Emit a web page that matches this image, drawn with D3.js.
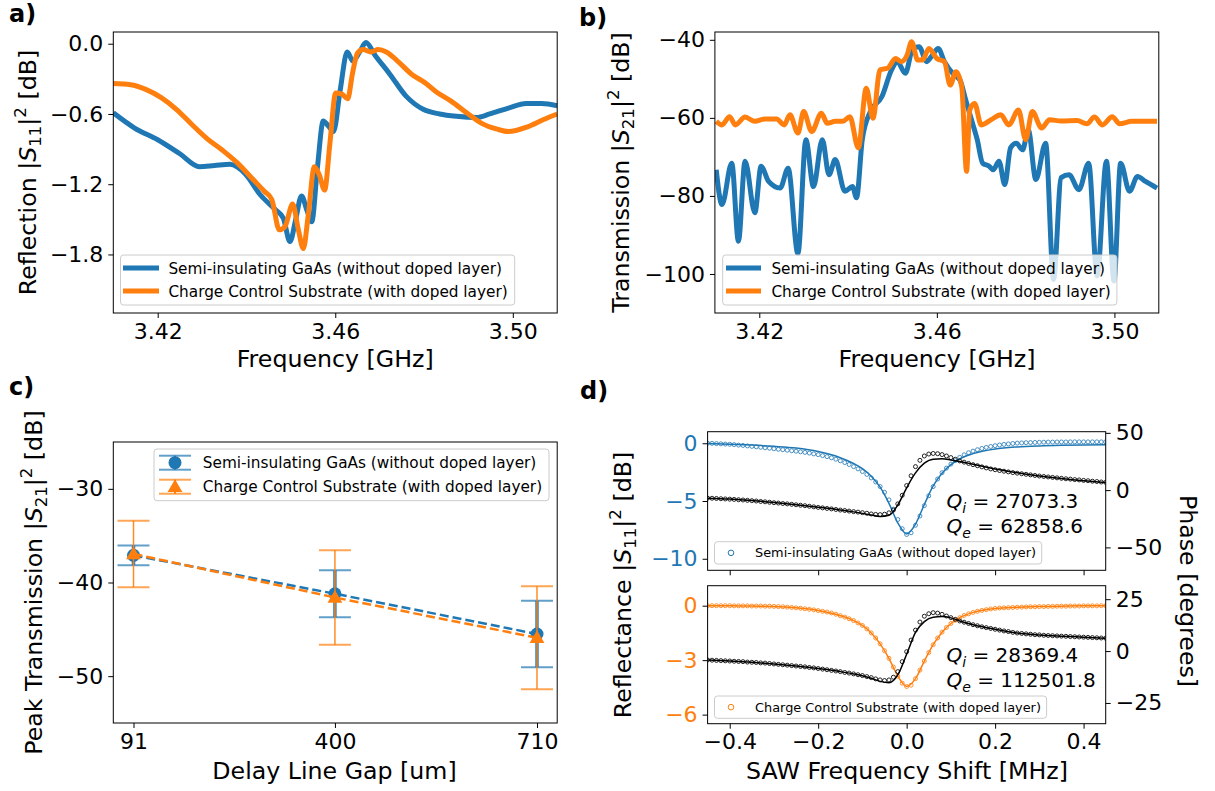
<!DOCTYPE html>
<html>
<head>
<meta charset="utf-8">
<script src="https://cdn.jsdelivr.net/npm/d3@7"></script>
<style>
  body { margin: 0; background: #fff; }
  svg text { font-family: "DejaVu Sans", sans-serif; }
</style>
</head>
<body>
<script>
//panel a: reflection |S11|^2 [dB] vs frequency [GHz]
var aBlueFreq = [3.4100,3.4148,3.4200,3.4250,3.4294,3.4328,3.4363,3.4397,3.4431,3.4466,3.4483,3.4498,3.4511,3.4524,3.4536,3.4547,3.4560,3.4573,3.4584,3.4596,3.4611,3.4627,3.4640,3.4655,3.4669,3.4690,3.4723,3.4760,3.4798,3.4835,3.4873,3.4918,3.4948,3.4990,3.5030,3.5065,3.5100];
var aBlueDb = [-0.59,-0.72,-0.82,-0.94,-1.05,-1.04,-1.03,-1.11,-1.29,-1.42,-1.49,-1.69,-1.50,-1.30,-1.42,-1.52,-1.05,-0.66,-0.70,-0.75,-0.40,-0.07,-0.15,-0.07,0.01,-0.10,-0.26,-0.45,-0.56,-0.60,-0.62,-0.63,-0.60,-0.55,-0.51,-0.51,-0.53];
var aOrangeFreq = [3.4100,3.4139,3.4173,3.4208,3.4242,3.4277,3.4311,3.4346,3.4380,3.4415,3.4440,3.4457,3.4474,3.4487,3.4504,3.4517,3.4528,3.4539,3.4553,3.4564,3.4576,3.4588,3.4601,3.4615,3.4628,3.4639,3.4650,3.4663,3.4680,3.4697,3.4715,3.4741,3.4775,3.4801,3.4827,3.4861,3.4896,3.4930,3.4965,3.4990,3.5033,3.5068,3.5100];
var aOrangeDb = [-0.34,-0.35,-0.39,-0.46,-0.56,-0.69,-0.81,-0.91,-1.02,-1.16,-1.26,-1.33,-1.59,-1.56,-1.37,-1.59,-1.75,-1.47,-1.05,-1.12,-1.25,-0.85,-0.42,-0.43,-0.47,-0.25,-0.08,-0.05,-0.07,-0.05,-0.07,-0.15,-0.27,-0.33,-0.41,-0.49,-0.59,-0.68,-0.73,-0.75,-0.71,-0.65,-0.60];

//panel b: transmission |S21|^2 [dB] vs frequency [GHz]
var bBlueFreq = [3.4103,3.4116,3.4138,3.4153,3.4168,3.4190,3.4204,3.4221,3.4247,3.4265,3.4287,3.4305,3.4322,3.4342,3.4357,3.4371,3.4393,3.4410,3.4419,3.4432,3.4450,3.4476,3.4498,3.4511,3.4529,3.4546,3.4560,3.4577,3.4590,3.4603,3.4617,3.4639,3.4652,3.4665,3.4678,3.4691,3.4703,3.4718,3.4727,3.4740,3.4753,3.4766,3.4779,3.4793,3.4806,3.4823,3.4845,3.4863,3.4880,3.4898,3.4920,3.4942,3.4961,3.4982,3.4999,3.5014,3.5034,3.5052,3.5070,3.5096];
var bBlueDb = [-73.3,-82.2,-71.6,-91.6,-71.1,-84.3,-72.4,-76.3,-78.0,-72.9,-94.8,-65.6,-77.6,-65.6,-74.6,-70.7,-78.8,-77.6,-80.5,-65.6,-58.4,-54.6,-47.7,-45.6,-48.6,-42.2,-41.8,-45.6,-43.9,-42.2,-45.6,-49.0,-50.3,-55.4,-60.5,-65.6,-71.6,-72.4,-73.3,-71.1,-77.1,-67.7,-66.5,-68.2,-63.1,-75.8,-66.5,-101.4,-75.3,-74.6,-78.4,-71.6,-100.5,-71.1,-101.8,-71.6,-78.8,-75.0,-76.3,-78.0];
var bOrangeFreq = [3.4103,3.4116,3.4133,3.4146,3.4168,3.4190,3.4212,3.4239,3.4256,3.4269,3.4287,3.4300,3.4318,3.4340,3.4353,3.4371,3.4388,3.4404,3.4423,3.4441,3.4456,3.4472,3.4489,3.4507,3.4520,3.4533,3.4543,3.4557,3.4568,3.4582,3.4600,3.4617,3.4630,3.4643,3.4656,3.4667,3.4674,3.4685,3.4700,3.4722,3.4744,3.4762,3.4784,3.4800,3.4815,3.4836,3.4854,3.4880,3.4916,3.4938,3.4955,3.4973,3.4995,3.5012,3.5039,3.5096];
var bOrangeDb = [-60.9,-61.8,-59.7,-61.8,-59.8,-60.9,-60.3,-60.3,-61.8,-59.2,-63.9,-58.4,-63.5,-58.8,-61.4,-60.9,-60.9,-59.7,-67.7,-52.4,-60.1,-47.7,-47.3,-44.8,-45.6,-43.9,-40.5,-45.2,-45.2,-42.2,-44.8,-45.6,-51.6,-48.2,-52.0,-73.7,-58.0,-56.3,-61.8,-60.5,-59.2,-61.8,-58.0,-65.6,-58.4,-62.6,-60.5,-60.8,-60.7,-61.5,-59.8,-61.8,-59.7,-61.5,-60.9,-60.9];

//panel c: peak transmission vs delay line gap
var gaps = [91, 400, 710];
var cBluePeak = [-37.1, -41.2, -45.5];
var cBlueErr = [1.05, 2.5, 3.55];
var cOrangePeak = [-36.95, -41.6, -45.9];
var cOrangeErr = [3.55, 5.05, 5.5];

//panel d: resonator sweep, both sampled on the same frequency grid
var sweepStart = -0.45, sweepStep = 0.01;
var dTopMagDb = [0.00,-0.01,-0.03,-0.05,-0.07,-0.09,-0.12,-0.16,-0.19,-0.23,-0.27,-0.31,-0.35,-0.39,-0.43,-0.48,-0.52,-0.56,-0.60,-0.65,-0.69,-0.74,-0.79,-0.85,-0.92,-0.99,-1.07,-1.16,-1.26,-1.38,-1.52,-1.67,-1.84,-2.02,-2.22,-2.45,-2.70,-3.00,-3.35,-3.75,-4.25,-4.90,-5.70,-6.60,-7.40,-7.90,-7.75,-7.10,-6.30,-5.40,-4.55,-3.75,-3.10,-2.55,-2.15,-1.80,-1.50,-1.22,-1.00,-0.82,-0.68,-0.56,-0.45,-0.36,-0.28,-0.21,-0.15,-0.10,-0.06,-0.02,0.01,0.03,0.05,0.06,0.07,0.08,0.09,0.10,0.10,0.11,0.11,0.11,0.12,0.12,0.12,0.12,0.12,0.12,0.12,0.12,0.12];
var dTopPhase = [-7.0,-7.1,-7.3,-7.5,-7.7,-7.9,-8.1,-8.4,-8.6,-8.9,-9.2,-9.5,-9.9,-10.2,-10.6,-11.0,-11.3,-11.7,-12.0,-12.4,-12.8,-13.2,-13.6,-14.1,-14.6,-15.1,-15.5,-16.0,-16.4,-16.9,-17.4,-17.8,-18.3,-18.8,-19.2,-19.7,-20.2,-20.8,-21.2,-21.4,-21.0,-19.8,-17.4,-12.0,-4.5,4.0,12.5,20.5,26.0,29.8,31.5,32.0,31.8,31.0,29.8,28.4,27.0,25.5,24.4,23.3,22.2,21.3,20.3,19.4,18.5,17.8,17.1,16.5,15.9,15.3,14.8,14.3,13.8,13.3,12.8,12.3,11.9,11.5,11.1,10.7,10.3,9.9,9.6,9.2,8.9,8.5,8.2,7.8,7.5,7.1,6.8];
var dBotMagDb = [0.00,0.00,0.00,0.00,0.00,0.00,-0.01,-0.01,-0.01,-0.01,-0.02,-0.02,-0.02,-0.03,-0.03,-0.04,-0.05,-0.06,-0.08,-0.10,-0.12,-0.14,-0.17,-0.20,-0.23,-0.27,-0.31,-0.35,-0.40,-0.47,-0.55,-0.63,-0.72,-0.82,-0.95,-1.09,-1.28,-1.50,-1.78,-2.10,-2.48,-2.90,-3.38,-3.88,-4.27,-4.45,-4.38,-4.02,-3.55,-3.05,-2.58,-2.15,-1.78,-1.46,-1.20,-0.98,-0.80,-0.66,-0.54,-0.45,-0.37,-0.31,-0.26,-0.22,-0.18,-0.15,-0.13,-0.12,-0.11,-0.10,-0.09,-0.08,-0.07,-0.06,-0.06,-0.05,-0.05,-0.04,-0.04,-0.03,-0.03,-0.03,-0.02,-0.02,-0.02,-0.01,-0.01,-0.01,-0.01,0.00,0.00];
var dBotPhase = [-4.3,-4.4,-4.5,-4.6,-4.7,-4.8,-4.9,-5.0,-5.1,-5.3,-5.4,-5.5,-5.7,-5.8,-6.0,-6.2,-6.4,-6.6,-6.8,-7.0,-7.2,-7.4,-7.6,-7.9,-8.1,-8.4,-8.7,-9.0,-9.3,-9.6,-9.9,-10.3,-10.6,-11.0,-11.4,-11.8,-12.3,-12.8,-13.4,-13.9,-14.2,-13.9,-12.6,-9.9,-5.1,-0.3,5.3,10.1,14.0,16.8,18.0,18.5,18.3,17.7,16.9,16.1,15.3,14.5,13.9,13.3,12.7,12.2,11.7,11.3,10.9,10.5,10.1,9.7,9.4,9.0,8.7,8.5,8.3,8.1,7.9,7.8,7.6,7.5,7.4,7.3,7.2,7.1,7.0,6.9,6.8,6.7,6.6,6.5,6.4,6.3,6.2];
//fitted curves
var fitShift = [-0.45,-0.40,-0.35,-0.30,-0.25,-0.20,-0.15,-0.12,-0.10,-0.08,-0.06,-0.04,-0.02,0.00,0.02,0.04,0.06,0.08,0.10,0.12,0.15,0.20,0.25,0.30,0.35,0.40,0.45];
var fitTopMag = [-0.03,-0.08,-0.16,-0.27,-0.42,-0.72,-1.25,-1.75,-2.20,-2.85,-3.80,-5.20,-6.90,-7.85,-7.00,-5.30,-3.70,-2.60,-1.85,-1.35,-0.90,-0.50,-0.32,-0.23,-0.18,-0.15,-0.13];
var fitTopPhase = [-7.0,-7.8,-9.1,-10.8,-12.7,-14.9,-17.3,-19.0,-20.3,-21.8,-23.0,-22.0,-13.0,2.0,15.0,23.5,27.0,27.3,26.3,25.0,22.6,18.5,15.2,12.4,10.1,8.2,6.7];
var fitBotMag = [0.00,0.00,-0.02,-0.04,-0.12,-0.27,-0.55,-0.82,-1.09,-1.50,-2.10,-2.90,-3.88,-4.45,-4.02,-3.05,-2.15,-1.46,-0.98,-0.66,-0.37,-0.15,-0.09,-0.05,-0.03,-0.01,0.00];
var fitBotPhase = [-4.3,-4.8,-5.4,-6.2,-7.2,-8.4,-9.9,-11.0,-11.9,-13.1,-14.6,-15.3,-11.5,-1.5,9.0,14.2,16.3,16.6,16.0,14.5,12.7,10.5,8.7,7.8,7.2,6.7,6.2];

var seriesNames = ["Semi-insulating GaAs (without doped layer)", "Charge Control Substrate (with doped layer)"];
var qTop = ["27073.3", "62858.6"];
var qBot = ["28369.4", "112501.8"];

var BLUE = "#1f77b4", ORANGE = "#ff7f0e";
var TICK = 22, LABEL = 23.7, LEG = 15.3;

var svg = d3.select("body").append("svg")
    .attr("width", 1215)
    .attr("height", 791);
svg.append("rect").attr("width", 1215).attr("height", 791).attr("fill", "#fff");

var clipCount = 0;

//axes box with scales and a clipped plot group
function makePanel(box, xDomain, yDomain) {
    var id = "clip" + (clipCount++);
    svg.append("clipPath").attr("id", id).append("rect")
        .attr("x", box.l).attr("y", box.t)
        .attr("width", box.r - box.l).attr("height", box.b - box.t);
    var g = svg.append("g");
    return {
        box: box,
        g: g,
        plot: g.append("g").attr("clip-path", "url(#" + id + ")"),
        x: d3.scaleLinear().domain(xDomain).range([box.l, box.r]),
        y: d3.scaleLinear().domain(yDomain).range([box.b, box.t])
    };
}

function tidy(sel, color) {
    sel.attr("font-size", TICK).attr("font-family", null);
    sel.select(".domain").remove();
    sel.selectAll(".tick line").attr("stroke", "#000");
    sel.selectAll(".tick text").attr("fill", color || "#000");
}

function frame(p) {
    p.g.append("rect")
        .attr("x", p.box.l).attr("y", p.box.t)
        .attr("width", p.box.r - p.box.l).attr("height", p.box.b - p.box.t)
        .attr("fill", "none").attr("stroke", "#000").attr("stroke-width", 1);
}

function bottomAxis(p, ticks, fmt) {
    var ax = d3.axisBottom(p.x).tickValues(ticks).tickSizeOuter(0).tickSizeInner(5).tickPadding(5)
        .tickFormat(fmt ? fmt : function () { return ""; });
    tidy(p.g.append("g").attr("transform", "translate(0," + p.box.b + ")").call(ax));
}

function leftAxis(p, ticks, fmt, color) {
    var ax = d3.axisLeft(p.y).tickValues(ticks).tickFormat(fmt).tickSizeOuter(0).tickSizeInner(5).tickPadding(5);
    tidy(p.g.append("g").attr("transform", "translate(" + p.box.l + ",0)").call(ax), color);
}

function rightAxis(p, scale, ticks, fmt) {
    var ax = d3.axisRight(scale).tickValues(ticks).tickFormat(fmt).tickSizeOuter(0).tickSizeInner(5).tickPadding(5);
    tidy(p.g.append("g").attr("transform", "translate(" + p.box.r + ",0)").call(ax));
}

//axis label with |S_xx|^2 math part
function sLabel(x, y, rot, pre, sub) {
    var t = svg.append("text")
        .attr("transform", "translate(" + x + "," + y + ") rotate(" + rot + ")")
        .attr("text-anchor", "middle")
        .attr("font-size", LABEL);
    t.append("tspan").text(pre + "|");
    t.append("tspan").attr("font-style", "italic").text("S");
    t.append("tspan").attr("font-size", LABEL * 0.7).attr("dy", LABEL * 0.22).text(sub);
    t.append("tspan").attr("dy", -LABEL * 0.22).text("|");
    t.append("tspan").attr("font-size", LABEL * 0.7).attr("dy", -LABEL * 0.42).text("2");
    t.append("tspan").attr("dy", LABEL * 0.42).text(" [dB]");
}

function plainLabel(x, y, rot, txt) {
    svg.append("text")
        .attr("transform", "translate(" + x + "," + y + ") rotate(" + rot + ")")
        .attr("text-anchor", "middle")
        .attr("font-size", LABEL)
        .text(txt);
}

function panelTag(x, y, txt) {
    svg.append("text").attr("x", x).attr("y", y)
        .attr("font-size", 24).attr("font-weight", "bold").text(txt);
}

function legendBox(p, x0, y0, x1, y1) {
    p.g.append("rect")
        .attr("x", x0).attr("y", y0).attr("width", x1 - x0).attr("height", y1 - y0)
        .attr("rx", 3)
        .attr("fill", "#fff").attr("fill-opacity", 0.8)
        .attr("stroke", "#cccccc").attr("stroke-width", 1);
}

function thickLine(p, xs, ys, color) {
    var line = d3.line()
        .x(function (d) { return p.x(d[0]); })
        .y(function (d) { return p.y(d[1]); })
        .curve(d3.curveMonotoneX);
    p.plot.append("path")
        .datum(xs.map(function (v, i) { return [v, ys[i]]; }))
        .attr("d", line)
        .attr("fill", "none")
        .attr("stroke", color)
        .attr("stroke-width", 5)
        .attr("stroke-linejoin", "round");
}

function lineLegend(p, xLine0, xLine1, xText, rows) {
    rows.forEach(function (r) {
        p.g.append("line").attr("x1", xLine0).attr("x2", xLine1).attr("y1", r.y).attr("y2", r.y)
            .attr("stroke", r.color).attr("stroke-width", 5);
        p.g.append("text").attr("x", xText).attr("y", r.y + 5.5).attr("font-size", LEG).text(r.name);
    });
}

// ---------- panel a ----------
var pa = makePanel({l: 113.3, r: 557.2, t: 32, b: 313}, [3.41, 3.51], [-2.3, 0.1]);
thickLine(pa, aBlueFreq, aBlueDb, BLUE);
thickLine(pa, aOrangeFreq, aOrangeDb, ORANGE);
frame(pa);
bottomAxis(pa, [3.42, 3.46, 3.50], d3.format(".2f"));
leftAxis(pa, [0, -0.6, -1.2, -1.8], d3.format(".1f"));
legendBox(pa, 120.5, 255, 514.7, 305);
lineLegend(pa, 123, 159, 168.4, [
    {y: 268, color: BLUE, name: seriesNames[0]},
    {y: 291, color: ORANGE, name: seriesNames[1]}
]);
sLabel(36, 172.5, -90, "Reflection ", "11");
plainLabel(335.2, 367, 0, "Frequency [GHz]");
panelTag(9, 22, "a)");

// ---------- panel b ----------
var pb = makePanel({l: 714.9, r: 1158.8, t: 32, b: 313}, [3.41, 3.51], [-110, -38]);
thickLine(pb, bBlueFreq, bBlueDb, BLUE);
thickLine(pb, bOrangeFreq, bOrangeDb, ORANGE);
frame(pb);
bottomAxis(pb, [3.42, 3.46, 3.50], d3.format(".2f"));
leftAxis(pb, [-40, -60, -80, -100], d3.format("d"));
legendBox(pb, 722.7, 255, 1116.9, 305);
lineLegend(pb, 726, 761, 771.4, [
    {y: 268, color: BLUE, name: seriesNames[0]},
    {y: 291, color: ORANGE, name: seriesNames[1]}
]);
sLabel(629, 172.5, -90, "Transmission ", "21");
plainLabel(937, 367, 0, "Frequency [GHz]");
panelTag(579, 26, "b)");

// ---------- panel c ----------
var pc = makePanel({l: 113.3, r: 557.2, t: 442, b: 723}, [60, 741], [-55, -25]);
var triangle = d3.symbol().type(d3.symbolTriangle).size(95);

function errorSeries(p, peaks, errs, color, barWidth, marker) {
    var pts = gaps.map(function (g, i) { return {g: g, v: peaks[i], e: errs[i]}; });
    var cap = 16;
    pts.forEach(function (d) {
        var x = p.x(d.g);
        p.plot.append("line").attr("x1", x).attr("x2", x)
            .attr("y1", p.y(d.v + d.e)).attr("y2", p.y(d.v - d.e))
            .attr("stroke", color).attr("stroke-width", barWidth).attr("stroke-opacity", 0.9);
        [d.v + d.e, d.v - d.e].forEach(function (yv) {
            p.plot.append("line").attr("x1", x - cap).attr("x2", x + cap)
                .attr("y1", p.y(yv)).attr("y2", p.y(yv))
                .attr("stroke", color).attr("stroke-width", 2).attr("stroke-opacity", 0.7);
        });
    });
    p.plot.append("path")
        .datum(pts)
        .attr("d", d3.line().x(function (d) { return p.x(d.g); }).y(function (d) { return p.y(d.v); }))
        .attr("fill", "none").attr("stroke", color).attr("stroke-width", 2.5)
        .attr("stroke-dasharray", "9,4");
    pts.forEach(function (d) {
        if (marker === "circle") {
            p.plot.append("circle").attr("cx", p.x(d.g)).attr("cy", p.y(d.v)).attr("r", 6.5).attr("fill", color);
        } else {
            p.plot.append("path").attr("d", triangle)
                .attr("transform", "translate(" + p.x(d.g) + "," + (p.y(d.v) + 1) + ")")
                .attr("fill", color);
        }
    });
}
errorSeries(pc, cBluePeak, cBlueErr, BLUE, 3.5, "circle");
errorSeries(pc, cOrangePeak, cOrangeErr, ORANGE, 1.5, "triangle");
frame(pc);
bottomAxis(pc, gaps, d3.format("d"));
leftAxis(pc, [-30, -40, -50], d3.format("d"));
legendBox(pc, 154, 449, 549, 500.7);
[{y: 462.7, color: BLUE, m: "circle", name: seriesNames[0]},
 {y: 486.7, color: ORANGE, m: "triangle", name: seriesNames[1]}].forEach(function (r) {
    var cx = 175, cap = 16;
    [r.y - 7, r.y + 7].forEach(function (yy) {
        pc.g.append("line").attr("x1", cx - cap).attr("x2", cx + cap).attr("y1", yy).attr("y2", yy)
            .attr("stroke", r.color).attr("stroke-width", 2).attr("stroke-opacity", 0.7);
    });
    pc.g.append("line").attr("x1", cx).attr("x2", cx).attr("y1", r.y - 7).attr("y2", r.y + 7)
        .attr("stroke", r.color).attr("stroke-width", 2);
    if (r.m === "circle") {
        pc.g.append("circle").attr("cx", cx).attr("cy", r.y).attr("r", 6.5).attr("fill", r.color);
    } else {
        pc.g.append("path").attr("d", triangle).attr("transform", "translate(" + cx + "," + (r.y + 1) + ")").attr("fill", r.color);
    }
    pc.g.append("text").attr("x", 202.8).attr("y", r.y + 5.5).attr("font-size", LEG).text(r.name);
});
sLabel(42, 582.5, -90, "Peak Transmission ", "21");
plainLabel(334.5, 779, 0, "Delay Line Gap [um]");
panelTag(9, 395, "c)");

// ---------- panel d ----------
var xD = [-0.45, 0.45];
var pdTop = makePanel({l: 707.6, r: 1105.7, t: 431.7, b: 570.3}, xD, [-11, 1]);
var pdBot = makePanel({l: 707.6, r: 1105.7, t: 585.7, b: 723.7}, xD, [-6.5, 1.1]);
var phTop = d3.scaleLinear().domain([-70, 51]).range([570.3, 431.7]);
var phBot = d3.scaleLinear().domain([-35, 31.5]).range([723.7, 585.7]);

function sweep(p, yScale, vals, color, opacity) {
    p.plot.append("g").selectAll("circle")
        .data(vals)
        .enter()
        .append("circle")
        .attr("cx", function (d, i) { return p.x(sweepStart + sweepStep * i); })
        .attr("cy", function (d) { return yScale(d); })
        .attr("r", 2.0)
        .attr("fill", "none")
        .attr("stroke", color)
        .attr("stroke-width", 1)
        .attr("stroke-opacity", opacity);
}

function fitLine(p, yScale, vals, color) {
    p.plot.append("path")
        .datum(vals)
        .attr("d", d3.line()
            .x(function (d, i) { return p.x(fitShift[i]); })
            .y(function (d) { return yScale(d); })
            .curve(d3.curveMonotoneX))
        .attr("fill", "none").attr("stroke", color).attr("stroke-width", 1.5);
}

function qText(p, x, y1, y2, vals) {
    [["i", vals[0], y1], ["e", vals[1], y2]].forEach(function (q) {
        var t = p.g.append("text").attr("x", x).attr("y", q[2]).attr("font-size", 20);
        t.append("tspan").attr("font-style", "italic").text("Q");
        t.append("tspan").attr("font-style", "italic").attr("font-size", 14).attr("dy", 5).text(q[0]);
        t.append("tspan").attr("dy", -5).text(" = " + q[1]);
    });
}

function dotLegend(p, x0, y0, x1, y1, color, name) {
    legendBox(p, x0, y0, x1, y1);
    var cy = (y0 + y1) / 2;
    p.g.append("circle").attr("cx", 731).attr("cy", cy).attr("r", 2.8)
        .attr("fill", "none").attr("stroke", color).attr("stroke-width", 1);
    p.g.append("text").attr("x", 755).attr("y", cy + 4.6).attr("font-size", 12.9).text(name);
}

//top: semi-insulating GaAs
fitLine(pdTop, pdTop.y, fitTopMag, BLUE);
sweep(pdTop, pdTop.y, dTopMagDb, BLUE, 0.8);
fitLine(pdTop, phTop, fitTopPhase, "#000");
sweep(pdTop, phTop, dTopPhase, "#000", 0.85);
frame(pdTop);
bottomAxis(pdTop, [-0.4, -0.2, 0, 0.2, 0.4], null);
leftAxis(pdTop, [0, -5, -10], d3.format("d"), BLUE);
rightAxis(pdTop, phTop, [50, 0, -50], d3.format("d"));
qText(pdTop, 946.5, 508, 533, qTop);
dotLegend(pdTop, 714.5, 541.7, 1041.7, 564, BLUE, seriesNames[0]);

//bottom: charge control substrate
fitLine(pdBot, pdBot.y, fitBotMag, ORANGE);
sweep(pdBot, pdBot.y, dBotMagDb, ORANGE, 0.85);
fitLine(pdBot, phBot, fitBotPhase, "#000");
sweep(pdBot, phBot, dBotPhase, "#000", 0.85);
frame(pdBot);
bottomAxis(pdBot, [-0.4, -0.2, 0, 0.2, 0.4], d3.format(".1f"));
leftAxis(pdBot, [0, -3, -6], d3.format("d"), ORANGE);
rightAxis(pdBot, phBot, [25, 0, -25], d3.format("d"));
qText(pdBot, 946.5, 662, 687, qBot);
dotLegend(pdBot, 714.5, 696, 1046.6, 718.3, ORANGE, seriesNames[1]);

sLabel(630.5, 585, -90, "Reflectance ", "11");
plainLabel(1180, 591, 90, "Phase [degrees]");
plainLabel(907, 779, 0, "SAW Frequency Shift [MHz]");
panelTag(580, 399, "d)");
</script>
</body>
</html>
